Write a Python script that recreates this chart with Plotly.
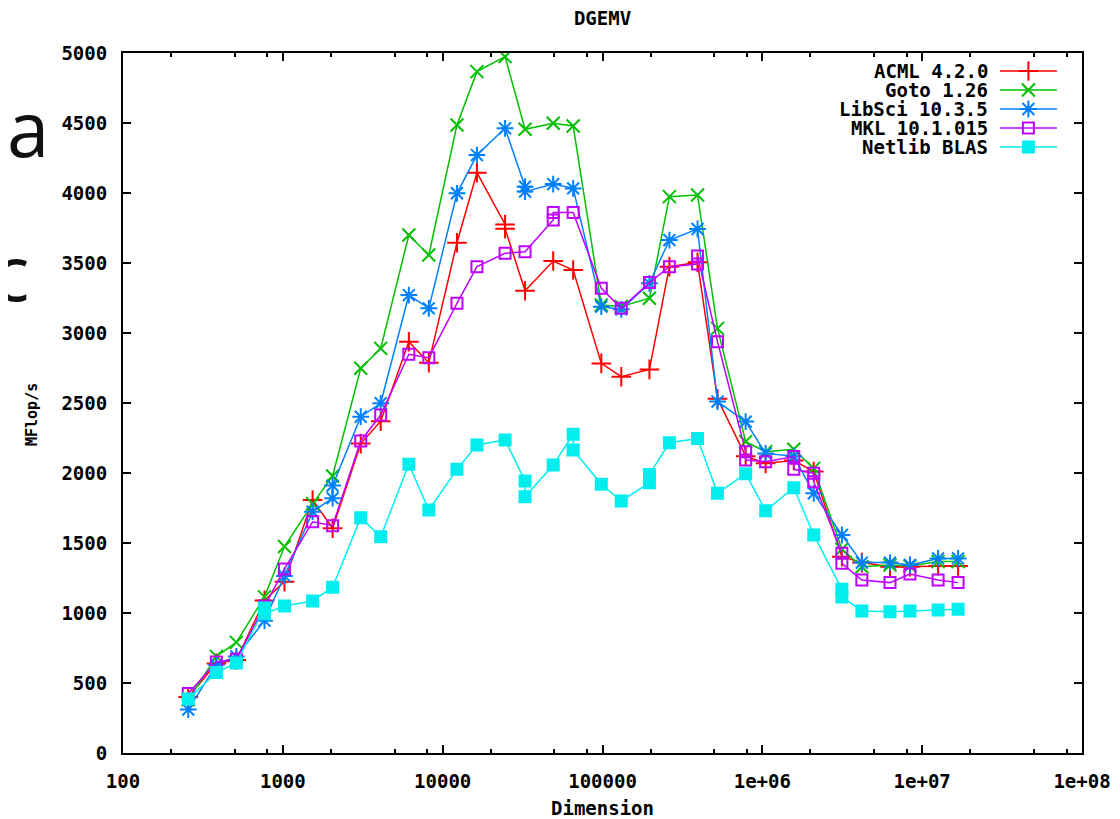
import plotly.graph_objects as go

# ---------------- data ----------------
dims = [256, 384, 512, 768, 1024, 1536, 2048, 3072, 4096, 6144, 8192, 12288,
        16384, 24576, 32768, 49152, 65536, 98304, 131072, 196608, 262144,
        393216, 524288, 786432, 1048576, 1572864, 2097152, 3145728, 4194304,
        6291456, 8388608, 12582912, 16777216]

# a list inside a series = repeated measurements at the same dimension
acml = [400, 640, 665, 1090, 1224, 1807, 1605, 2210, 2370, 2938, 2788, 3645,
        4145, [3775, 3745], 3302, 3514, 3450, 2783, 2688, 2740, 3474, 3505,
        2530, 2120, 2069, 2090, 2010, 1402, 1360, 1331, 1331, 1336, 1336]
goto = [380, 690, 790, 1115, 1475, 1780, 1979, 2748, 2890, 3700, 3557, 4486,
        4867, 4974, 4455, 4498, 4479, 3200, 3190, 3248, 3974, 3986, 3033,
        2224, 2152, 2170, 2033, 1455, 1330, 1343, 1335, 1367, 1367]
libsci = [310, 630, 690, 945, 1265, 1724, [1820, 1910], 2402, 2498, 3271,
          3176, 3998, 4271, 4462, [4045, 4010], 4064, 4033, 3188, 3169, 3355,
          3664, 3743, 2510, 2367, 2140, 2120, 1855, 1557, 1360, 1360, 1343,
          1390, 1390]
mkl = [425, 650, 670, 1050, 1315, 1652, 1624, 2229, 2414, 2848, 2824, 3212,
       3474, 3569, 3581, [3807, 3860], 3860, 3319, 3176, 3360, 3474,
       [3493, 3550], 2938, [2152, 2093], 2081, [2117, 2026], [1998, 1938],
       [1426, 1355], 1236, 1217, 1279, 1236, 1217]
netlib = [385, 575, 643, [1035, 995], 1050, 1086, 1184, 1681, 1545, 2062,
          1736, 2026, 2200, 2236, [1943, 1831], 2057, [2276, 2164], 1919,
          1800, [1930, 1990], 2216, 2246, 1855, 1995, 1731, 1895, 1557,
          [1170, 1115], 1014, 1009, 1014, 1021, 1026]

series_names = ["ACML 4.2.0", "Goto 1.26", "LibSci 10.3.5", "MKL 10.1.015",
                "Netlib BLAS"]
x_tick_vals = [1e2, 1e3, 1e4, 1e5, 1e6, 1e7, 1e8]
x_tick_text = ["100", "1000", "10000", "100000", "1e+06", "1e+07", "1e+08"]
y_tick_vals = [0, 500, 1000, 1500, 2000, 2500, 3000, 3500, 4000, 4500, 5000]

# ---------------- styling ----------------
colors = ["#ff0000", "#00c000", "#0080ff", "#c000ff", "#00eeee"]
symbols = ["cross-thin-open", "x-thin-open", "asterisk-open", "square-open",
           "square"]
msizes = [14, 13, 14, 11, 11]

FONT = "DejaVu Sans Mono"
FS = 19


def expand(vals):
    xs, ys = [], []
    for d, v in zip(dims, vals):
        for vv in (v if isinstance(v, list) else [v]):
            xs.append(d)
            ys.append(vv)
    return xs, ys


fig = go.Figure()
for vals, name, col, sym, ms in zip([acml, goto, libsci, mkl, netlib],
                                    series_names, colors, symbols, msizes):
    xs, ys = expand(vals)
    fig.add_trace(go.Scatter(
        x=xs, y=ys, mode="lines+markers", name="",
        hovertext=name,
        line=dict(color=col, width=1.5),
        marker=dict(symbol=sym, size=ms, color=col,
                    line=dict(color=col, width=2)),
    ))

minor_vals = []
for e in range(2, 8):
    for m in (2, 5, 8):
        minor_vals.append(m * 10 ** e)

axis_common = dict(
    showline=True, linecolor="black", linewidth=2, mirror="allticks",
    ticks="inside", ticklen=8, tickwidth=1.5, tickcolor="black",
    showgrid=False, zeroline=False, automargin=False,
    tickfont=dict(family=FONT, size=FS, color="black", weight="bold"),
)

fig.update_xaxes(
    type="log", range=[2, 8], tickmode="array", tickvals=x_tick_vals,
    ticktext=x_tick_text, ticklabelstandoff=10,
    minor=dict(tickmode="array", tickvals=minor_vals, ticks="inside",
               ticklen=4, tickcolor="black", tickwidth=1.5),
    title=dict(text="Dimension", standoff=11,
               font=dict(family=FONT, size=FS, color="black", weight="bold")),
    **axis_common,
)
fig.update_yaxes(
    range=[0, 5000], tickmode="array", tickvals=y_tick_vals,
    ticklabelstandoff=10,
    **axis_common,
)

# y axis title (placed a little below the middle, as gnuplot does)
fig.add_annotation(xref="paper", yref="paper", x=(32 - 123) / 959,
                   y=(753 - 415) / 700, text="MFlop/s", textangle=-90,
                   showarrow=False, xanchor="center", yanchor="middle",
                   font=dict(family=FONT, size=15, color="black",
                             weight="bold"))

# legend symbols (text drawn as right-aligned annotations, gnuplot style)
fig.update_layout(
    legend=dict(x=0.905 + 4 / 959, y=0.995, xanchor="left", yanchor="top",
                bgcolor="rgba(0,0,0,0)", borderwidth=0, itemwidth=57,
                tracegroupgap=0, font=dict(size=11)),
    showlegend=True,
)
row0 = (753 - 71) / 700
for i, name in enumerate(series_names):
    fig.add_annotation(
        xref="paper", yref="paper", x=(990 - 123) / 959,
        y=row0 - i * 19 / 700, xanchor="right", yanchor="middle",
        text=name, showarrow=False,
        font=dict(family=FONT, size=FS, color="black", weight="bold"),
    )

# stray overlay letters at the left edge of the picture
fig.add_annotation(xref="paper", yref="paper", x=(28 - 123) / 959,
                   y=(753 - 128) / 700, text="a", showarrow=False,
                   xanchor="center", yanchor="middle",
                   font=dict(family="Open Sans", size=76, color="#111111"))
fig.add_annotation(xref="paper", yref="paper", x=(11 - 123) / 959,
                   y=(753 - 271) / 700, text="c", showarrow=False,
                   xanchor="center", yanchor="middle",
                   font=dict(family="Open Sans", size=76, color="#111111"))

# the page adds an 8px body margin; size the figure so the plot lands
# where it sits in the reference
fig.update_layout(
    width=1112, height=811,
    margin=dict(l=115, r=38, t=45, b=66),
    paper_bgcolor="white", plot_bgcolor="white",
    title=dict(text="DGEMV", x=0.5, xref="paper", xanchor="center",
               y=1 - 10 / 811, yanchor="middle",
               font=dict(family=FONT, size=19, color="black", weight="bold")),
)

fig.write_html("out.html")
